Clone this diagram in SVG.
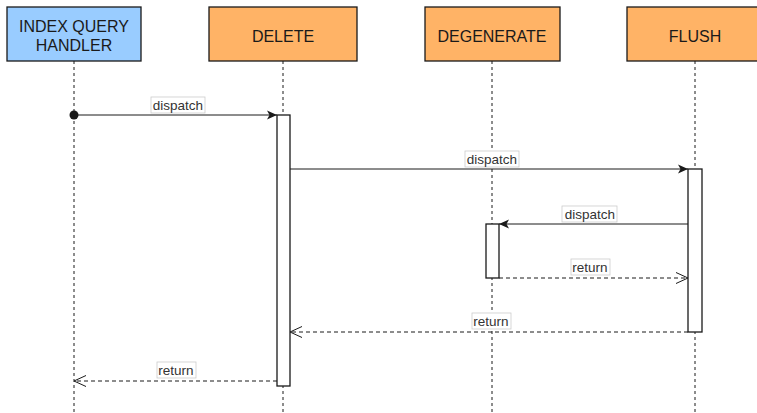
<svg xmlns="http://www.w3.org/2000/svg" width="757" height="413" viewBox="0 0 757 413">
<style>
.box{stroke:#1a1a1a;stroke-width:1.3}
.blue{fill:#99ccff}
.orange{fill:#ffb366}
.title{font-family:"Liberation Sans",Arial,sans-serif;font-size:16px;fill:#1a1a1a;text-anchor:middle}
.life{stroke:#1a1a1a;stroke-width:1;stroke-dasharray:3 3;fill:none}
.act{fill:#ffffff;stroke:#1a1a1a;stroke-width:1.3}
.msg{stroke:#1a1a1a;stroke-width:1;fill:none}
.ret{stroke:#1a1a1a;stroke-width:1;fill:none;stroke-dasharray:4 3}
.lblbg{fill:#ffffff;stroke:#cccccc;stroke-width:0.8}
.lbl{font-family:"Liberation Sans",Arial,sans-serif;font-size:13.5px;fill:#333333;text-anchor:middle}
</style>
<defs>
<marker id="filled" markerWidth="12" markerHeight="12" refX="10" refY="6" orient="auto" markerUnits="userSpaceOnUse">
<path d="M0,1.5 L10,6 L0,10.5 L2.5,6 Z" fill="#1a1a1a"/>
</marker>
<marker id="open" markerWidth="14" markerHeight="14" refX="13" refY="7" orient="auto" markerUnits="userSpaceOnUse">
<path d="M1,1.5 L13,7 L1,12.5" fill="none" stroke="#1a1a1a" stroke-width="1"/>
</marker>
</defs>
<rect width="757" height="413" fill="#ffffff"/>
<g id="lifelines">
<line class="life" x1="74" y1="61" x2="74" y2="413"/>
<line class="life" x1="283" y1="61" x2="283" y2="413"/>
<line class="life" x1="492" y1="61" x2="492" y2="413"/>
<line class="life" x1="695" y1="61" x2="695" y2="413"/>
</g>
<g id="node-index-query-handler">
<rect class="box blue" x="7" y="7" width="134" height="54"/>
<text class="title" x="74" y="32">INDEX QUERY</text>
<text class="title" x="74" y="51">HANDLER</text>
</g>
<g id="node-delete">
<rect class="box orange" x="209" y="7" width="148" height="54"/>
<text class="title" x="283" y="42">DELETE</text>
</g>
<g id="node-degenerate">
<rect class="box orange" x="425" y="7" width="135" height="54"/>
<text class="title" x="492" y="42">DEGENERATE</text>
</g>
<g id="node-flush">
<rect class="box orange" x="627" y="7" width="136" height="54"/>
<text class="title" x="695" y="42">FLUSH</text>
</g>
<g id="activations">
<rect class="act" x="277" y="115" width="13" height="271"/>
<rect class="act" x="688" y="169" width="14" height="163"/>
<rect class="act" x="486" y="224" width="13" height="54"/>
</g>
<g id="connectors">
<circle cx="74" cy="115" r="4.5" fill="#1a1a1a"/>
<line class="msg" x1="74" y1="115" x2="277" y2="115" marker-end="url(#filled)"/>
<line class="msg" x1="290" y1="169" x2="688" y2="169" marker-end="url(#filled)"/>
<line class="msg" x1="688" y1="224" x2="499" y2="224" marker-end="url(#filled)"/>
<line class="ret" x1="499" y1="278" x2="688" y2="278" marker-end="url(#open)"/>
<line class="ret" x1="688" y1="332" x2="290" y2="332" marker-end="url(#open)"/>
<line class="ret" x1="277" y1="381" x2="74" y2="381" marker-end="url(#open)"/>
<rect class="lblbg" x="151" y="97" width="54" height="16"/>
<text class="lbl" x="178" y="110">dispatch</text>
<rect class="lblbg" x="465" y="151" width="54" height="16"/>
<text class="lbl" x="492" y="164">dispatch</text>
<rect class="lblbg" x="562" y="206" width="55" height="16"/>
<text class="lbl" x="590" y="219">dispatch</text>
<rect class="lblbg" x="571" y="259" width="39" height="16"/>
<text class="lbl" x="590" y="272">return</text>
<rect class="lblbg" x="472" y="313" width="39" height="16"/>
<text class="lbl" x="491" y="326">return</text>
<rect class="lblbg" x="157" y="362" width="39" height="16"/>
<text class="lbl" x="176" y="375">return</text>
</g>
</svg>
